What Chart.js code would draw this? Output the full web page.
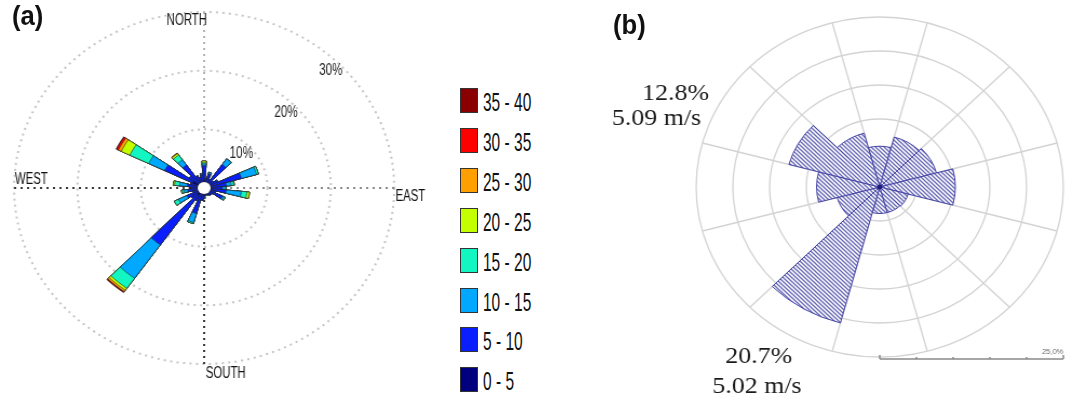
<!DOCTYPE html>
<html>
<head>
<meta charset="utf-8">
<title>Wind roses</title>
<script src="https://cdn.jsdelivr.net/npm/chart.js@4.4.1/dist/chart.umd.min.js"></script>
<style>
  html, body { margin: 0; padding: 0; background: #fff; }
  #stage { position: relative; width: 1066px; height: 399px; overflow: hidden; font-family: "Liberation Sans", Arial, sans-serif; }
  .panel { position: absolute; top: 0; transform-origin: 0 0; transform: scaleX(1.08); }
  #wrapA { left: 0; }
  #wrapB { left: 600px; }
  .tag { position: absolute; font-weight: bold; font-size: 27px; line-height: 27px; color: #111; transform-origin: 0 0; transform: scaleX(0.95); }
  #legendA { position: absolute; left: 460px; top: 88px; }
  .item { position: absolute; left: 0; width: 90px; height: 25px; }
  .swatch { position: absolute; left: 0; top: 0; width: 18px; height: 25px; box-sizing: border-box; border: 1.5px solid #333; }
  .label { position: absolute; left: 23px; top: 2px; font-size: 25px; line-height: 25px; color: #111; white-space: nowrap; transform-origin: 0 0; transform: scaleX(0.62); }
</style>
</head>
<body>
<div id="stage">
  <div class="panel" id="wrapA"><canvas id="roseA" width="420" height="399"></canvas></div>
  <div class="panel" id="wrapB"><canvas id="roseB" width="432" height="399"></canvas></div>
  <div class="tag" style="left:12px;top:3px">(a)</div>
  <div class="tag" style="left:613px;top:12px">(b)</div>
  <div id="legendA"></div>
</div>
<script>
// ---------- Rose (a): frequency (%) per 10° direction, split by wind-speed class ----------
const dirA = [0, 10, 20, 30, 40, 50, 60, 70, 80, 90, 100, 110, 120, 130, 140, 150, 160, 170,
              180, 190, 200, 210, 220, 230, 240, 250, 260, 270, 280, 290, 300, 310, 320, 330, 340, 350];
const speedBins = ['0 - 5', '5 - 10', '10 - 15', '15 - 20', '20 - 25', '25 - 30', '30 - 35', '35 - 40'];
const binColors = ['#00007f', '#0a1eff', '#00a8ff', '#12f7c2', '#c4ff00', '#ffa000', '#ff0000', '#8a0000'];

const freq0_5   = [1.2, 0.9, 1.0, 0.9, 1.0, 0.9, 1.0, 1.0, 1.0, 1.0, 1.1, 0.9, 1.0, 0.9, 0.9, 0.9, 0.8, 0.9,
                   1.0, 1.0, 1.0, 1.0, 1.5, 1.0, 1.0, 1.0, 1.0, 1.0, 1.0, 1.0, 2.0, 1.0, 1.0, 1.0, 1.0, 1.0];
const freq5_10  = [2.6, 0.7, 1.5, 0.8, 3.9, 0.9, 1.3, 5.1, 2.5, 1.9, 2.4, 1.0, 2.2, 0.7, 0.6, 0.5, 0.4, 0.4,
                   0.6, 1.1, 3.5, 1.4, 10.4, 1.5, 2.0, 0.9, 1.6, 1.0, 1.7, 1.2, 4.9, 1.9, 3.8, 1.3, 0.8, 1.3];
const freq10_15 = [0.3, 0, 0.3, 0, 1.2, 0, 0.1, 2.5, 0.8, 0.5, 2.4, 0, 0.3, 0, 0, 0, 0, 0,
                   0.2, 0, 1.6, 0, 7.0, 0, 1.5, 0, 0.6, 0, 1.2, 0, 2.8, 0, 1.1, 0, 0, 0.2];
const freq15_20 = [0.2, 0, 0, 0, 0, 0, 0, 0.3, 0.4, 0.1, 0.9, 0, 0.2, 0, 0, 0, 0, 0,
                   0, 0, 0.2, 0, 2.1, 0, 0.7, 0, 0.3, 0, 0.8, 0, 3.3, 0, 1.0, 0, 0, 0];
const freq20_25 = [0.3, 0, 0, 0, 0, 0, 0, 0, 0.1, 0, 0.4, 0, 0, 0, 0, 0, 0, 0,
                   0, 0, 0, 0, 0.4, 0, 0, 0, 0.1, 0, 0.2, 0, 1.5, 0, 0.3, 0, 0, 0];
const freq25_30 = [0, 0, 0, 0, 0, 0, 0, 0, 0, 0, 0, 0, 0, 0, 0, 0, 0, 0,
                   0, 0, 0, 0, 0.3, 0, 0, 0, 0, 0, 0, 0, 0.5, 0, 0.1, 0, 0, 0];
const freq30_35 = [0, 0, 0, 0, 0, 0, 0, 0, 0, 0, 0, 0, 0, 0, 0, 0, 0, 0,
                   0, 0, 0, 0, 0.1, 0, 0, 0, 0, 0, 0, 0, 0.3, 0, 0, 0, 0, 0];
const freq35_40 = [0, 0, 0, 0, 0, 0, 0, 0, 0, 0, 0, 0, 0, 0, 0, 0, 0, 0,
                   0, 0, 0, 0, 0.1, 0, 0, 0, 0, 0, 0, 0, 0.1, 0, 0, 0, 0, 0];
const ringTicksA = [10, 20, 30];
const compassA = [['NORTH', 0], ['EAST', 90], ['SOUTH', 180], ['WEST', 270]];

// ---------- Rose (b): frequency (%) per 30° sector ----------
const sectorsB = ['N', 'NNE', 'ENE', 'E', 'ESE', 'SSE', 'S', 'SSW', 'WSW', 'W', 'WNW', 'NNW'];
const freqB = [6.0, 7.6, 8.0, 10.3, 4.0, 3.9, 3.9, 20.7, 6.0, 8.6, 12.8, 8.2];
const calloutSector = [10, 7];       // sectors annotated with frequency and mean speed
const calloutSpeed = [5.09, 5.02];   // m/s

// ---------- helpers ----------
function squeezeText(ctx, text, x, y, sx) {
  ctx.save();
  ctx.translate(x, y);
  ctx.scale(sx, 1);
  ctx.fillText(text, 0, 0);
  ctx.restore();
}
function polar(scale, deg, dist) {
  const a = deg * Math.PI / 180;
  return { x: scale.xCenter + dist * Math.sin(a), y: scale.yCenter - dist * Math.cos(a) };
}

// ---------- chart (a) ----------
const binsA = [freq0_5, freq5_10, freq10_15, freq15_20, freq20_25, freq25_30, freq30_35, freq35_40];
const PETAL = 9, GAP = 1;   // angular width of a petal and of the gap after it (degrees)
const labelsA = [];
dirA.forEach(d => { labelsA.push(d + '°', ''); });

// stacked petals: each dataset holds the running total up to its speed class;
// dataset 0 is painted last, so the inner classes sit on top of the outer ones
const datasetsA = speedBins.map((name, b) => {
  const data = [];
  dirA.forEach((d, k) => {
    let cum = 0;
    for (let j = 0; j <= b; j++) cum += binsA[j][k];
    data.push(+cum.toFixed(3), 0);
  });
  return {
    label: name,
    data,
    backgroundColor: binColors[b],
    borderColor: '#242424',
    borderWidth: 0.6,
    angle: c => (c.dataIndex % 2 ? GAP : PETAL)
  };
});

const compassPlugin = {
  id: 'compassA',
  beforeDatasetsDraw(chart) {
    const s = chart.scales.r, ctx = chart.ctx, R = s.drawingArea;
    const shades = { 0: '#b4b4b4', 90: '#8a8a8a', 180: '#3a3a3a', 270: '#3a3a3a' };
    ctx.save();
    ctx.lineWidth = 2;
    ctx.setLineDash([2, 4]);
    compassA.forEach(([, deg]) => {
      const p = polar(s, deg, R);
      ctx.strokeStyle = shades[deg];
      ctx.beginPath();
      ctx.moveTo(s.xCenter, s.yCenter);
      ctx.lineTo(p.x, p.y);
      ctx.stroke();
    });
    ctx.restore();
  },
  afterDatasetsDraw(chart) {
    const s = chart.scales.r, ctx = chart.ctx, R = s.drawingArea;
    const cx = s.xCenter, cy = s.yCenter;
    ctx.save();
    // calm circle in the middle
    ctx.fillStyle = '#fff';
    ctx.beginPath();
    ctx.arc(cx, cy, 6, 0, Math.PI * 2);
    ctx.fill();
    // direction names
    ctx.fillStyle = '#111';
    ctx.font = '16px "Liberation Sans", Arial, sans-serif';
    ctx.textAlign = 'center';
    ctx.textBaseline = 'middle';
    const place = {
      NORTH: [cx - 16, cy - R + 9],
      EAST:  [cx + R + 15, cy + 8.5],
      SOUTH: [cx + 20, cy + R + 9.5],
      WEST:  [cx - R + 16, cy - 8.5]
    };
    compassA.forEach(([name]) => squeezeText(ctx, name, place[name][0], place[name][1], 0.66));
    // ring values along the 45° radial
    ctx.fillStyle = '#1e1e1e';
    ringTicksA.forEach(v => {
      const p = polar(s, 45, s.getDistanceFromCenterForValue(v) - 10);
      squeezeText(ctx, v + '%', p.x, p.y, 0.68);
    });
    ctx.restore();
  }
};

const chartA = new Chart(document.getElementById('roseA'), {
  type: 'polarArea',
  data: { labels: labelsA, datasets: datasetsA },
  options: {
    responsive: false,
    animation: false,
    layout: { padding: { left: 13, top: 12, right: 55, bottom: 35 } },
    scales: {
      r: {
        min: 0,
        max: 30,
        startAngle: -PETAL / 2,
        ticks: { display: false, stepSize: 10 },
        grid: { circular: true, color: '#c6c6c6', lineWidth: 2 },
        border: { dash: [2, 4] },
        angleLines: { display: false },
        pointLabels: { display: false }
      }
    },
    plugins: { legend: { display: false }, tooltip: { enabled: false } }
  },
  plugins: [compassPlugin]
});

// legend for (a), highest speed class first
const legendBox = document.getElementById('legendA');
chartA.data.datasets.slice().reverse().forEach((ds, i) => {
  const item = document.createElement('div');
  item.className = 'item';
  item.style.top = (i * 39.9) + 'px';
  const sw = document.createElement('span');
  sw.className = 'swatch';
  sw.style.background = ds.backgroundColor;
  const tx = document.createElement('span');
  tx.className = 'label';
  tx.textContent = ds.label;
  item.appendChild(sw);
  item.appendChild(tx);
  legendBox.appendChild(item);
});

// ---------- chart (b) ----------
const tile = document.createElement('canvas');
tile.width = 4; tile.height = 4;
const tctx = tile.getContext('2d');
tctx.fillStyle = '#ffffff';
tctx.fillRect(0, 0, 4, 4);
tctx.strokeStyle = '#6868b6';
tctx.lineWidth = 1.3;
tctx.beginPath();
tctx.moveTo(-1, -1); tctx.lineTo(5, 5);
tctx.moveTo(-1, 3); tctx.lineTo(1, 5);
tctx.moveTo(3, -1); tctx.lineTo(5, 1);
tctx.stroke();
const canvasB = document.getElementById('roseB');
const hatch = canvasB.getContext('2d').createPattern(tile, 'repeat');

const annotB = {
  id: 'annotB',
  afterDatasetsDraw(chart) {
    const s = chart.scales.r, ctx = chart.ctx, R = s.drawingArea;
    const cx = s.xCenter, cy = s.yCenter;
    ctx.save();
    // hub
    ctx.fillStyle = '#1c1c7a';
    ctx.beginPath();
    ctx.arc(cx, cy, 2.3, 0, Math.PI * 2);
    ctx.fill();
    // 0–25 % scale bar
    const barY = cy + R + 2;
    const step = 5, top = 25;
    ctx.strokeStyle = '#8a8a8a';
    ctx.lineWidth = 1.5;
    ctx.beginPath();
    ctx.moveTo(cx, barY);
    ctx.lineTo(cx + s.getDistanceFromCenterForValue(top), barY);
    for (let v = 0; v <= top; v += step) {
      const x = cx + s.getDistanceFromCenterForValue(v);
      const h = (v === 0 || v === top) ? 4 : 2;
      ctx.moveTo(x, barY);
      ctx.lineTo(x, barY - h);
    }
    ctx.stroke();
    ctx.fillStyle = '#6a6a6a';
    ctx.font = '7px "Liberation Sans", Arial, sans-serif';
    ctx.textAlign = 'right';
    ctx.textBaseline = 'alphabetic';
    ctx.fillText(top.toFixed(1).replace('.', ',') + '%', cx + s.getDistanceFromCenterForValue(top), barY - 5);
    // call-outs: frequency and mean speed of the two leading sectors
    ctx.fillStyle = '#1a1a1a';
    ctx.font = '24px "Liberation Serif", "Times New Roman", serif';
    ctx.textAlign = 'left';
    const spots = [
      [[cx - 220, cy - 87], [cx - 248, cy - 62]],
      [[cx - 143, cy + 176], [cx - 155, cy + 206]]
    ];
    calloutSector.forEach((idx, k) => {
      const [p1, p2] = spots[k];
      ctx.fillText(freqB[idx].toFixed(1) + '%', p1[0], p1[1]);
      ctx.fillText(calloutSpeed[k].toFixed(2) + ' m/s', p2[0], p2[1]);
    });
    ctx.restore();
  }
};

new Chart(canvasB, {
  type: 'polarArea',
  data: {
    labels: sectorsB,
    datasets: [{
      label: 'Frequency (%)',
      data: freqB,
      backgroundColor: hatch,
      borderColor: '#4444a6',
      borderWidth: 1
    }]
  },
  options: {
    responsive: false,
    animation: false,
    layout: { padding: { left: 89, top: 17, right: 3, bottom: 42 } },
    scales: {
      r: {
        min: 0,
        max: 25,
        startAngle: -15,
        ticks: { display: false, stepSize: 5 },
        grid: { circular: true, color: '#d3d3d3', lineWidth: 1.3 },
        angleLines: { display: true, color: '#d3d3d3', lineWidth: 1.3 },
        pointLabels: { display: false }
      }
    },
    plugins: { legend: { display: false }, tooltip: { enabled: false } }
  },
  plugins: [annotB]
});
</script>
</body>
</html>
